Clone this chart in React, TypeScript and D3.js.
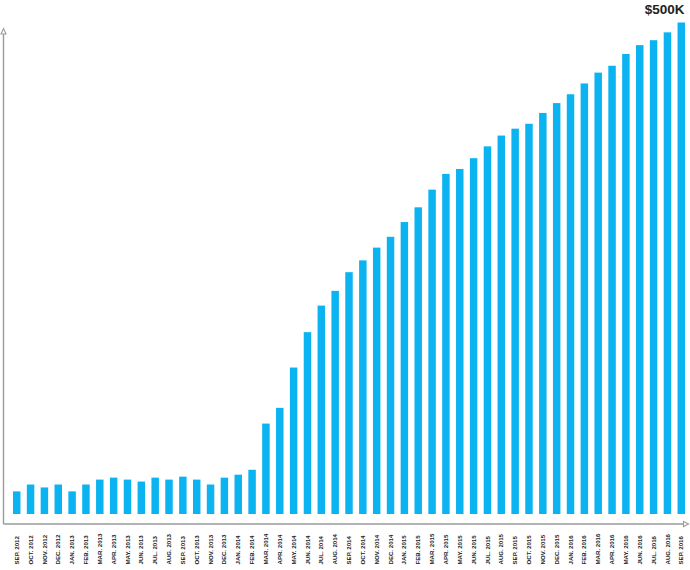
import React, { FC } from 'react';
import * as d3 from 'd3';

// monthly totals in $K, Sep 2012 .. Sep 2016
const months: string[] = [
  'SEP. 2012', 'OCT. 2012', 'NOV. 2012', 'DEC. 2012',
  'JAN. 2013', 'FEB. 2013', 'MAR. 2013', 'APR. 2013', 'MAY. 2013', 'JUN. 2013',
  'JUL. 2013', 'AUG. 2013', 'SEP. 2013', 'OCT. 2013', 'NOV. 2013', 'DEC. 2013',
  'JAN. 2014', 'FEB. 2014', 'MAR. 2014', 'APR. 2014', 'MAY. 2014', 'JUN. 2014',
  'JUL. 2014', 'AUG. 2014', 'SEP. 2014', 'OCT. 2014', 'NOV. 2014', 'DEC. 2014',
  'JAN. 2015', 'FEB. 2015', 'MAR. 2015', 'APR. 2015', 'MAY. 2015', 'JUN. 2015',
  'JUL. 2015', 'AUG. 2015', 'SEP. 2015', 'OCT. 2015', 'NOV. 2015', 'DEC. 2015',
  'JAN. 2016', 'FEB. 2016', 'MAR. 2016', 'APR. 2016', 'MAY. 2016', 'JUN. 2016',
  'JUL. 2016', 'AUG. 2016', 'SEP. 2016',
];

const revenue: number[] = [
  23, 30, 27, 30,
  23, 30, 35, 37, 35, 33,
  37, 35, 38, 35, 30, 37,
  40, 45, 92, 108, 149, 185,
  212, 227, 246, 258, 271, 282,
  297, 312, 330, 346, 351, 362,
  374, 385, 392, 397, 408, 418,
  427, 438, 449, 456, 468, 477,
  482, 490, 500,
];

const topLabel = '$500K';

const width = 690;
const height = 570;
const baseY = 514;
const axisY = 524;
const axisX = 3.5;

const App: FC = () => {
  const x = d3
    .scaleBand<string>()
    .domain(months)
    .range([9.8, 688.2])
    .paddingInner(0.46)
    .paddingOuter(0.23);
  const y = d3.scaleLinear().domain([0, 500]).range([baseY, 22.5]);

  const bw = x.bandwidth();

  return (
    <svg
      width={width}
      height={height}
      style={{ position: 'absolute', left: 0, top: 0 }}
      fontFamily="'Liberation Sans', Arial, sans-serif"
    >
      <g id="bars">
        {months.map((m, i) => (
          <rect
            key={m}
            x={x(m)}
            y={y(revenue[i])}
            width={bw}
            height={baseY - y(revenue[i])}
            fill="#0bb4f1"
          />
        ))}
      </g>

      {/* axes with open arrow heads */}
      <g id="axes" stroke="#9a9a9a" strokeWidth={1.4} fill="none">
        <path d={`M${axisX},${axisY}V31 M${axisX},${axisY}H684`} />
        <path d={`M${axisX - 2.5},34 L${axisX},28.5 L${axisX + 2.5},34 Z`} fill="#fff" strokeWidth={1.1} />
        <path d={`M683.5,521.5 L688.5,${axisY} L683.5,526.5 Z`} fill="#fff" strokeWidth={1.1} />
      </g>

      <g id="x-labels" fontSize={6.1} fontWeight="bold" fill="#222">
        {months.map((m) => {
          const cx = (x(m) as number) + bw / 2 + 2.1;
          return (
            <text key={m} transform={`translate(${cx},564.5) rotate(-90)`} textAnchor="start">
              {m}
            </text>
          );
        })}
      </g>

      <text x={684.5} y={14} textAnchor="end" fontSize={13.5} fontWeight="bold" fill="#222">
        {topLabel}
      </text>
    </svg>
  );
};

export default App;
